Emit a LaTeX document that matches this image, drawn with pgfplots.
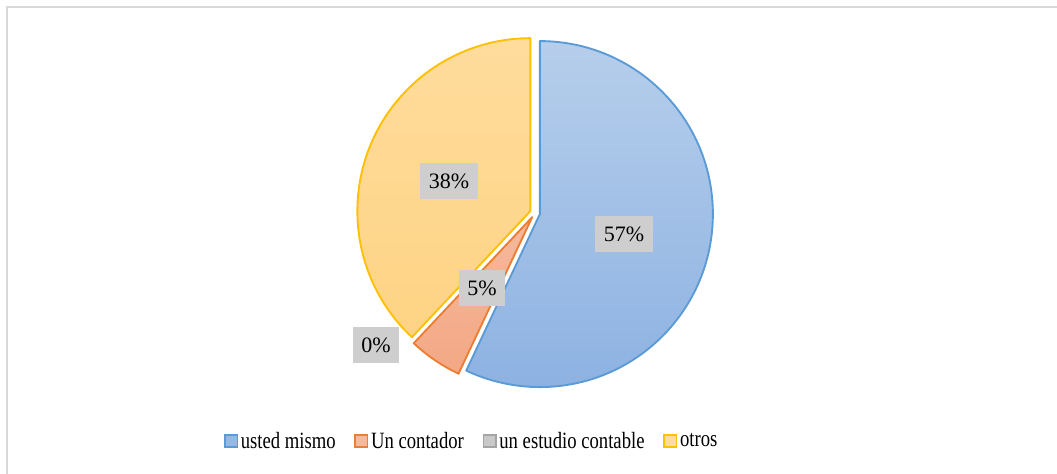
\documentclass[border=0pt]{standalone}
\usepackage{pgfplots}
\pgfplotsset{compat=1.18}
\usepackage{pgfplotstable}
\usepackage{graphicx}
\usepackage{fontspec}
\setmainfont{Liberation Serif}

\definecolor{bluetop}{HTML}{B6CEEB}
\definecolor{bluebot}{HTML}{8DB2E2}
\definecolor{blueline}{HTML}{5B9BD5}
\definecolor{orgtop}{HTML}{F6B99C}
\definecolor{orgbot}{HTML}{F3A885}
\definecolor{orgline}{HTML}{ED7D31}
\definecolor{gryfill}{HTML}{C9C9C9}
\definecolor{gryline}{HTML}{A5A5A5}
\definecolor{yeltop}{HTML}{FFDC9C}
\definecolor{yelbot}{HTML}{FED384}
\definecolor{yelline}{HTML}{FFC000}
\definecolor{labelbg}{HTML}{CFCECE}
\definecolor{frame}{HTML}{D9D9D9}

% shares in percent, clockwise from 12 o'clock
\pgfplotstableread{
name value
{usted mismo} 57
{Un contador} 5
{un estudio contable} 0
otros 38
}\piedata

\pgfplotstablegetelem{0}{value}\of\piedata \let\vA\pgfplotsretval
\pgfplotstablegetelem{1}{value}\of\piedata \let\vB\pgfplotsretval
\pgfplotstablegetelem{2}{value}\of\piedata \let\vC\pgfplotsretval
\pgfplotstablegetelem{3}{value}\of\piedata \let\vD\pgfplotsretval

\pgfmathsetmacro\aA{90}
\pgfmathsetmacro\aB{\aA-3.6*\vA}
\pgfmathsetmacro\aC{\aB-3.6*\vB}
\pgfmathsetmacro\aD{\aC-3.6*\vC}
\pgfmathsetmacro\aE{\aD-3.6*\vD}

\def\R{129.75pt}   % 173 px
% #1 start angle, #2 end angle, #3 style
\newcommand\slice[3]{%
  \draw[#3, line width=1.4pt, line join=round]
    (axis cs:535,261) ++({(#1+#2)/2}:3.75pt) -- ++(#1:\R)
    arc[start angle=#1, end angle=#2, radius=\R] -- cycle;}
\newcommand\leg[1]{\scalebox{0.8}[1]{#1}}

\begin{document}
\begin{tikzpicture}
\begin{axis}[
    x=0.75pt, y=0.75pt,
    xmin=0, xmax=1057, ymin=0, ymax=474,
    hide axis, clip=false,
    legend style={at={(axis cs:472,33)}, anchor=center, draw=none,
        font=\fontsize{17.5}{19}\selectfont, legend columns=-1,
        /tikz/every even column/.append style={column sep=12pt},
        /tikz/every odd column/.append style={column sep=0pt}},
    legend image code/.code={\draw[#1, line width=1.2pt] (0pt,-4.7pt) rectangle (9.4pt,4.7pt);},
]
\addlegendimage{fill=bluebot!80!bluetop, draw=blueline}
\addlegendentry{\leg{usted mismo}}
\addlegendimage{fill=orgtop, draw=orgline}
\addlegendentry{\leg{Un contador}}
\addlegendimage{fill=gryfill, draw=gryline}
\addlegendentry{\leg{un estudio contable}}
\addlegendimage{fill=yeltop, draw=yelline}
\addlegendentry{\leg{otros}}

\slice{\aA}{\aB}{draw=blueline, top color=bluetop, bottom color=bluebot}
\slice{\aB}{\aC}{draw=orgline, top color=orgtop, bottom color=orgbot}
\slice{\aD}{\aE}{draw=yelline, top color=yeltop, bottom color=yelbot}

\draw[frame, line width=1.5pt] (axis cs:7,-10) -- (axis cs:7,467) -- (axis cs:1070,467);

\tikzset{lbl/.style={fill=labelbg, font=\fontsize{16.5}{19}\selectfont,
    inner xsep=6.5pt, minimum height=27pt}}
\node[lbl] at (axis cs:624,240) {57\%};
\node[lbl] at (axis cs:449,293) {38\%};
\node[lbl] at (axis cs:482,186) {5\%};
\node[lbl] at (axis cs:376,129) {0\%};
\end{axis}
\pgfresetboundingbox
\path[use as bounding box] (0,0) rectangle (792.75pt,355.5pt);
\end{tikzpicture}
\end{document}
